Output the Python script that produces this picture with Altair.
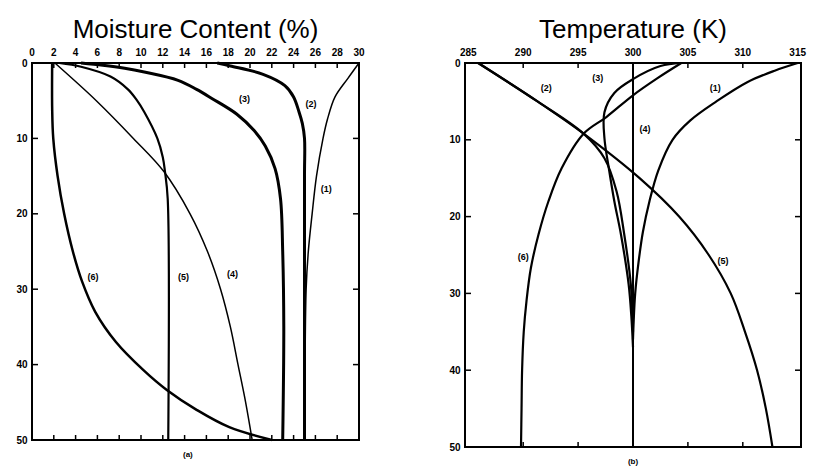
import altair as alt
import pandas as pd

# ---------------- (a) soil moisture content profiles ----------------
# depth (cm, downward) and moisture content (%) for each numbered curve
m1_depth = [0, 2, 4.5, 7.5, 10, 15, 20, 25, 30, 40, 50]
m1_value = [30.0, 29.0, 27.8, 27.1, 26.7, 26.1, 25.7, 25.35, 25.15, 25.05, 25.0]
m2_depth = [0, 0.4, 1.5, 3, 4.5, 6.5, 8, 10, 15, 50]
m2_value = [17.0, 18.2, 21.2, 23.2, 24.0, 24.5, 24.8, 25.0, 25.0, 25.0]
m3_depth = [0, 0.3, 0.7, 1.2, 2.3, 3.5, 4.7, 6.8, 9, 11, 14, 18, 25, 35, 50]
m3_value = [4.5, 6.5, 8.5, 10.3, 13.4, 15.1, 16.5, 18.8, 20.4, 21.4, 22.3, 22.8, 23.0, 23.1, 23.0]
m4_depth = [0, 5, 10, 14.4, 20, 25, 30, 35, 40, 45, 50]
m4_value = [2.1, 5.9, 9.3, 12.1, 14.5, 16.1, 17.3, 18.2, 18.9, 19.6, 20.2]
m5_depth = [0, 0.5, 1.8, 3.5, 4.9, 6.5, 10, 12.5, 14.4, 18, 50]
m5_value = [2.5, 4.5, 7.2, 8.8, 9.6, 10.3, 11.5, 12.0, 12.2, 12.45, 12.5]
m6_depth = [0, 6, 10, 15, 20, 25, 29, 33, 37, 40.7, 43.4, 46, 48.3, 50]
m6_value = [1.85, 1.85, 1.95, 2.35, 2.95, 3.75, 4.6, 5.8, 7.7, 10.2, 12.4, 15.1, 18.1, 22.0]

# ---------------- (b) soil temperature profiles ----------------
t1_depth = [0, 1, 2.5, 5, 7.5, 10, 14, 18, 22, 26, 30, 34, 36]
t1_value = [315.0, 312.9, 310.4, 307.6, 305.2, 303.6, 302.3, 301.5, 300.9, 300.5, 300.2, 300.05, 300.0]
t2_depth = [0, 5, 9.2, 12.4, 16.7, 22.3, 28.8, 33, 35]
t2_value = [285.9, 291.3, 295.5, 297.4, 298.5, 299.2, 299.8, 299.95, 300.0]
t3_depth = [0, 0.4, 2.1, 3.9, 6.4, 9.8, 13.7, 18, 22.3, 28.8, 33, 37]
t3_value = [304.4, 302.5, 300.0, 298.3, 297.4, 297.4, 297.8, 298.3, 298.9, 299.6, 299.85, 300.0]
t4_depth = [0, 50]
t4_value = [300.0, 300.0]
t5_depth = [0, 5, 9.2, 15, 20, 25, 30, 35, 40, 45, 50]
t5_value = [285.9, 291.3, 295.5, 300.6, 304.2, 306.9, 308.9, 310.2, 311.3, 312.1, 312.7]
t6_depth = [0, 2, 4.2, 7, 9.2, 13.7, 18, 22.3, 26.7, 31, 35, 40, 45, 50]
t6_value = [304.4, 302.2, 300.0, 297.6, 295.5, 293.5, 292.3, 291.4, 290.7, 290.3, 290.05, 289.9, 289.85, 289.8]

curve_names = ["(1)", "(2)", "(3)", "(4)", "(5)", "(6)"]
moist_widths = [1.5, 3.0, 3.0, 1.5, 2.2, 2.5]
temp_widths = [2.2, 2.2, 2.2, 2.0, 2.2, 2.2]

# curve labels, in data units
moist_lab_x = [27.0, 25.6, 19.5, 18.4, 13.9, 5.6]
moist_lab_y = [16.7, 5.4, 4.8, 28.0, 28.4, 28.4]
temp_lab_x = [307.5, 292.1, 296.8, 301.1, 308.2, 290.0]
temp_lab_y = [3.3, 3.3, 2.0, 8.6, 25.8, 25.3]

# axis ticks
moist_ticks = list(range(0, 31, 2))
moist_inner_ticks = list(range(2, 29, 2))
temp_ticks = [285, 290, 295, 300, 305, 310, 315]
temp_inner_ticks = [290, 295, 300, 305, 310]
depth_ticks = [0, 10, 20, 30, 40, 50]
depth_inner_ticks = [10, 20, 30, 40]

SANS = "Liberation Sans, Arial, sans-serif"


def long_table(depths, values, widths):
    rows = []
    for name, d, v, w in zip(curve_names, depths, values, widths):
        for i, (dd, vv) in enumerate(zip(d, v)):
            rows.append({"curve": name, "i": i, "depth": dd, "value": vv, "lw": w})
    return pd.DataFrame(rows)


def panel(df, xdomain, xticks, inner_x, lab_x, lab_y, title, caption, cap_x, w, h):
    xs = alt.Scale(domain=xdomain, nice=False, zero=False)
    ys = alt.Scale(domain=[0, 50], reverse=True, nice=False, zero=False)

    lines = alt.Chart(df).mark_line(color="black", interpolate="catmull-rom").encode(
        x=alt.X("value:Q", scale=xs, title=None, axis=None),
        y=alt.Y("depth:Q", scale=ys, title=None,
                axis=alt.Axis(values=depth_ticks, ticks=False, domain=False, grid=False,
                              labelFont=SANS, labelFontSize=10, labelFontWeight="bold",
                              labelColor="black", labelPadding=5, labelFlush=False)),
        detail="curve:N",
        order="i:Q",
        strokeWidth=alt.StrokeWidth("lw:Q", scale=None),
    )

    # tick labels along the top edge, placed through the x scale
    top_labels = alt.Chart(pd.DataFrame({"value": xticks})).mark_text(
        font=SANS, fontSize=10, fontWeight="bold", color="black", baseline="middle"
    ).encode(x=alt.X("value:Q", title=None), y=alt.value(-10), text=alt.Text("value:Q"))

    # inward tick marks on all four sides of the frame
    xt = pd.DataFrame({"value": inner_x})
    top_ticks = alt.Chart(xt).mark_rule(color="black", strokeWidth=1.5).encode(
        x=alt.X("value:Q", title=None), y=alt.value(0), y2=alt.value(5))
    bot_ticks = alt.Chart(xt).mark_rule(color="black", strokeWidth=1.5).encode(
        x=alt.X("value:Q", title=None), y=alt.value(h), y2=alt.value(h - 5))

    yt = pd.DataFrame({"depth": depth_inner_ticks})
    left_ticks = alt.Chart(yt).mark_rule(color="black", strokeWidth=1.5).encode(
        y=alt.Y("depth:Q", title=None), x=alt.value(0), x2=alt.value(6))
    right_ticks = alt.Chart(yt).mark_rule(color="black", strokeWidth=1.5).encode(
        y=alt.Y("depth:Q", title=None), x=alt.value(w - 6), x2=alt.value(w))

    labs = pd.DataFrame({"name": curve_names, "value": lab_x, "depth": lab_y})
    labels = alt.Chart(labs).mark_text(font=SANS, fontSize=9, fontWeight="bold",
                                       color="black").encode(
        x=alt.X("value:Q", title=None),
        y=alt.Y("depth:Q", title=None),
        text="name:N",
    )

    cap = alt.Chart(pd.DataFrame({"value": [cap_x], "c": [caption]})).mark_text(
        font=SANS, fontSize=8, fontWeight="bold", color="black").encode(
        x=alt.X("value:Q", title=None), y=alt.value(h + 15), text="c:N")

    return alt.layer(lines, top_labels, top_ticks, bot_ticks, left_ticks, right_ticks,
                     labels, cap).properties(
        width=w, height=h,
        title=alt.TitleParams(title, font=SANS, fontSize=26, fontWeight="normal",
                              color="black", anchor="middle", offset=5),
    )


moist_df = long_table(
    [m1_depth, m2_depth, m3_depth, m4_depth, m5_depth, m6_depth],
    [m1_value, m2_value, m3_value, m4_value, m5_value, m6_value],
    moist_widths)
temp_df = long_table(
    [t1_depth, t2_depth, t3_depth, t4_depth, t5_depth, t6_depth],
    [t1_value, t2_value, t3_value, t4_value, t5_value, t6_value],
    temp_widths)

left = panel(moist_df, [0, 30], moist_ticks, moist_inner_ticks, moist_lab_x, moist_lab_y,
             "Moisture Content (%)", "(a)", 14.3, 327, 377)
right = panel(temp_df, [284.7, 315.3], temp_ticks, temp_inner_ticks, temp_lab_x, temp_lab_y,
              "Temperature (K)", "(b)", 300.0, 336, 384)

chart = alt.hconcat(left, right, spacing=81).properties(
    padding={"left": 14, "top": 16, "right": 5, "bottom": 5},
    background="white",
).configure_view(stroke="black", strokeWidth=2)

chart.save("out.html", embed_options={"renderer": "svg", "actions": False})
